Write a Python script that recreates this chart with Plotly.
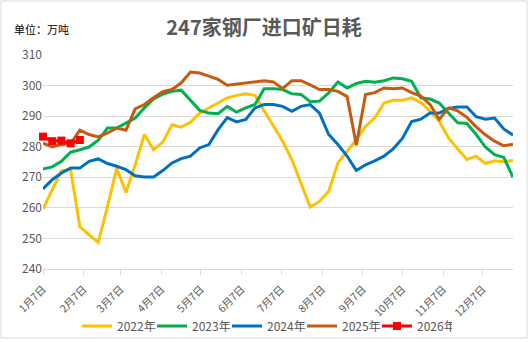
import datetime as dt
import plotly.graph_objects as go

# ---------------- data ----------------
y2022 = [259.6, 266.0, 272.2, 272.5, 253.8, 251.2, 248.7, 260.5, 273.0, 265.0,
         274.0, 284.0, 279.0, 281.5, 287.2, 286.4, 288.0, 291.0, 292.7, 294.5,
         296.0, 296.8, 297.3, 296.8, 291.8, 286.9, 281.8, 275.8, 268.1, 260.3,
         262.1, 265.4, 274.7, 278.5, 282.3, 286.7, 289.4, 294.3, 295.2, 295.2,
         296.0, 294.5, 291.6, 288.3, 282.9, 279.3, 275.8, 276.9, 274.5, 275.4,
         275.1, 275.5]
y2023 = [272.7, 273.4, 275.2, 278.2, 279.0, 279.9, 282.1, 286.1, 286.1, 287.8,
         289.4, 292.7, 295.6, 297.2, 298.1, 298.5, 295.2, 291.9, 291.0, 290.8,
         293.2, 291.3, 292.7, 293.8, 299.0, 299.0, 298.7, 297.3, 297.1, 294.7,
         294.9, 297.6, 301.2, 299.2, 300.7, 301.4, 301.1, 301.6, 302.5, 302.2,
         301.4, 296.0, 295.6, 294.3, 291.0, 287.8, 287.6, 284.0, 279.9, 277.4,
         276.5, 270.0]
y2024 = [266.2, 269.2, 271.4, 273.0, 273.0, 275.2, 276.0, 274.5, 273.6, 272.5,
         270.5, 270.1, 270.1, 272.2, 274.7, 276.1, 276.9, 279.6, 280.7, 285.6,
         289.5, 288.1, 288.9, 292.7, 293.8, 293.8, 293.2, 291.6, 293.2, 293.8,
         291.0, 284.0, 280.7, 276.9, 272.2, 274.1, 275.4, 276.9, 279.3, 282.7,
         288.2, 289.0, 291.0, 291.0, 292.5, 293.0, 293.0, 289.8, 289.0, 289.4,
         285.8, 283.8]
y2025 = [281.2, 279.9, 280.7, 281.0, 285.4, 284.0, 283.2, 284.5, 286.1, 285.4,
         292.4, 293.8, 296.0, 298.0, 298.7, 300.9, 304.4, 304.1, 303.1, 302.0,
         300.1, 300.5, 301.0, 301.4, 301.6, 301.2, 299.0, 301.6, 301.6, 300.2,
         298.7, 298.7, 298.1, 296.4, 280.5, 297.1, 297.7, 299.2, 299.0, 299.2,
         297.7, 296.6, 293.8, 288.9, 292.7, 291.7, 289.6, 286.5, 283.9, 281.8,
         280.3, 280.8]
y2026 = [283.3, 281.8, 282.0, 281.1, 282.2]

series_names = ["2022年", "2023年", "2024年", "2025年", "2026年"]
series_values = [y2022, y2023, y2024, y2025, y2026]
series_colors = ["#FFC000", "#00B050", "#0070C0", "#C55A11", "#FF0000"]

tick_months = list(range(1, 13))
tick_labels = [f"{m}月7日" for m in tick_months]

# ---------------- layout constants ----------------
W, H = 531, 342
ML, MR, MT, MB = 43, 18, 55, 73
DAYS_PER_POINT = 7
base = dt.date(2022, 1, 7)
tick_vals = [(dt.date(2022, m, 7) - base).days / DAYS_PER_POINT for m in tick_months]

PW, PH = W - ML - MR, H - MT - MB


def px_x(px):
    return (px - ML) / PW


def px_y(py):
    return 1 - (py - MT) / PH


FONT = "Noto Sans CJK SC, Liberation Sans, sans-serif"
GRID = "#D9D9D9"
TXT = "#595959"

fig = go.Figure()
for name, vals, col in zip(series_names, series_values, series_colors):
    is_2026 = name == "2026年"
    fig.add_trace(go.Scatter(
        x=list(range(len(vals))), y=vals, name=name,
        mode="lines+markers" if is_2026 else "lines",
        line=dict(color=col, width=3),
        marker=dict(symbol="square", size=8, color=col) if is_2026 else None,
        cliponaxis=False,
    ))

fig.update_layout(
    width=W, height=H,
    margin=dict(l=ML, r=MR, t=MT, b=MB, autoexpand=False),
    paper_bgcolor="white", plot_bgcolor="white",
    font=dict(family=FONT, size=12, color=TXT),
    title=dict(text="<b>247家钢厂进口矿日耗</b>", x=264 / W, xanchor="center",
               y=1 - 28 / H, yanchor="middle",
               font=dict(family=FONT, size=20, color=TXT)),
    showlegend=True,
    legend=dict(orientation="h", x=px_x(264.5), xanchor="center",
                y=px_y(326), yanchor="middle",
                font=dict(family=FONT, size=12, color=TXT),
                itemwidth=30, tracegroupgap=0,
                entrywidth=30, entrywidthmode="pixels",
                bgcolor="rgba(0,0,0,0)"),
    xaxis=dict(range=[0, 51], tickvals=tick_vals, ticktext=tick_labels,
               tickangle=-45, showgrid=False, zeroline=False,
               showline=True, linecolor=GRID, linewidth=1,
               ticks="outside", ticklen=5, tickcolor=GRID,
               ticklabelstandoff=4, automargin=False,
               tickfont=dict(family=FONT, size=10.5, color=TXT)),
    yaxis=dict(range=[240, 310], dtick=10, showgrid=True, gridcolor=GRID,
               gridwidth=1, zeroline=False, showline=False, ticks="",
               automargin=False,
               tickfont=dict(family=FONT, size=12, color=TXT)),
    annotations=[dict(text="单位：万吨", xref="paper", yref="paper",
                      x=px_x(12), y=px_y(29), xanchor="left", yanchor="middle",
                      showarrow=False,
                      font=dict(family=FONT, size=11, color="#000000"))],
    shapes=[dict(type="rect", xref="paper", yref="paper",
                 x0=px_x(1), x1=px_x(527), y0=px_y(338), y1=px_y(1),
                 line=dict(color=GRID, width=1), layer="below")],
)

fig.write_html("out.html")
